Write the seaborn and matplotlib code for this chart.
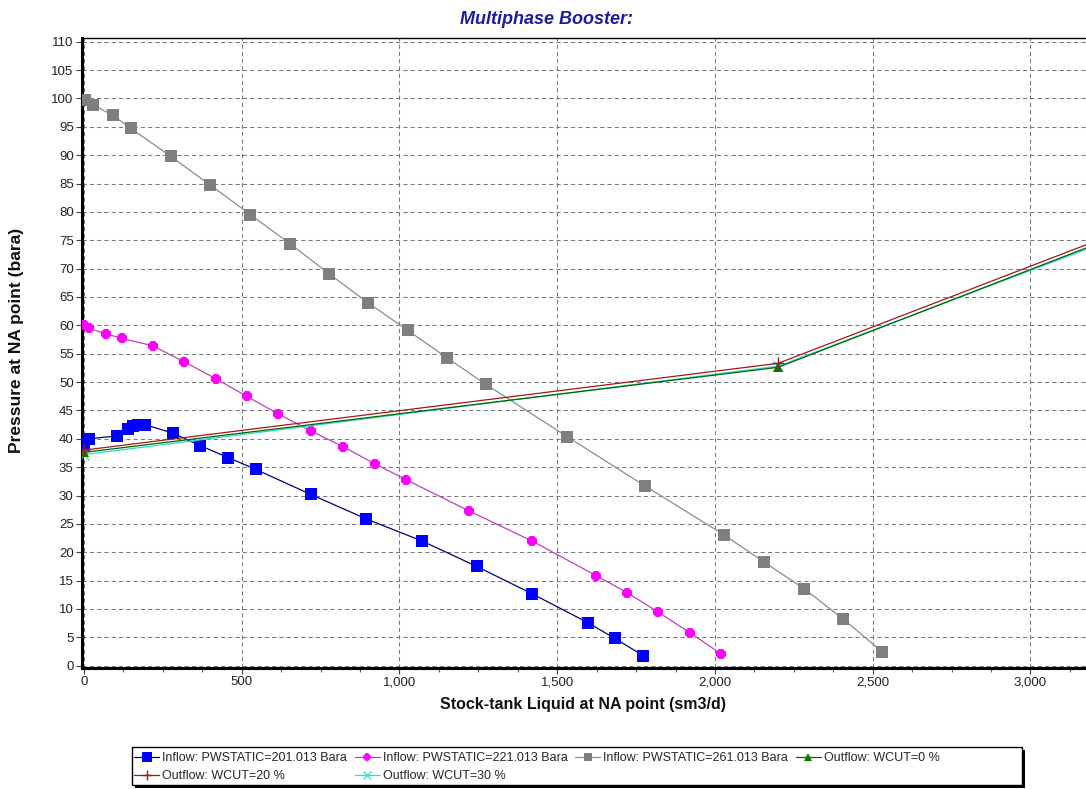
import matplotlib
matplotlib.use("Agg")
import matplotlib.pyplot as plt
import matplotlib.ticker as mticker
from matplotlib.patches import Rectangle
import seaborn as sns
import pandas as pd

# ---------------- data ----------------
in201_x = [0, 15, 104, 140, 157, 171, 193, 282, 368, 457, 545, 719, 894, 1071, 1245, 1420, 1597, 1683, 1772]
in201_y = [39.3, 40.0, 40.5, 41.8, 42.3, 42.5, 42.5, 41.0, 38.8, 36.7, 34.6, 30.2, 25.9, 22.0, 17.5, 12.7, 7.6, 4.8, 1.8]

in221_x = [0, 16, 70, 120, 218, 317, 418, 516, 615, 719, 822, 922, 1021, 1220, 1420, 1623, 1721, 1819, 1921, 2019]
in221_y = [60.0, 59.5, 58.5, 57.7, 56.4, 53.6, 50.6, 47.5, 44.4, 41.4, 38.6, 35.6, 32.8, 27.3, 22.0, 15.9, 12.9, 9.5, 5.8, 2.1]

in261_x = [3, 28, 92, 149, 275, 401, 528, 653, 777, 900, 1027, 1150, 1274, 1531, 1778, 2028, 2155, 2282, 2405, 2529]
in261_y = [99.8, 98.9, 97.0, 94.7, 89.8, 84.7, 79.5, 74.4, 69.1, 64.0, 59.1, 54.3, 49.6, 40.4, 31.7, 23.1, 18.3, 13.6, 8.3, 2.5]

out_x = [0, 2200, 4400]
out0_y = [37.6, 52.6, 100.0]
out20_y = [38.0, 53.3, 100.4]
out30_y = [37.2, 52.8, 99.2]

labels = {
    "in201": "Inflow: PWSTATIC=201.013 Bara",
    "in221": "Inflow: PWSTATIC=221.013 Bara",
    "in261": "Inflow: PWSTATIC=261.013 Bara",
    "out0": "Outflow: WCUT=0 %",
    "out20": "Outflow: WCUT=20 %",
    "out30": "Outflow: WCUT=30 %",
}

x_ticks = [0, 500, 1000, 1500, 2000, 2500, 3000]
y_ticks = list(range(0, 111, 5))

# ---------------- style ----------------
sns.set_theme(style="white")
plt.rcParams["font.family"] = ["Liberation Sans", "DejaVu Sans"]

W, H = 1086, 789
fig = plt.figure(figsize=(W / 100, H / 100), dpi=100)
ax = fig.add_axes([82 / W, 1 - 668 / H, (W - 82) / W, (668 - 37.7) / H])

lw = 0.9
handles = {}

def draw(key, xs, ys, line_color, marker, mfc, ms, mec=None, mew=0.0, z=3):
    df = pd.DataFrame({"x": xs, "y": ys})
    sns.lineplot(data=df, x="x", y="y", ax=ax, sort=False, estimator=None,
                 color=line_color, linewidth=lw, marker=marker, markersize=ms,
                 markerfacecolor=mfc, markeredgecolor=mec if mec else mfc,
                 markeredgewidth=mew, label=labels[key], zorder=z, legend=False)
    handles[key] = ax.lines[-1]

draw("in261", in261_x, in261_y, "#8c8c8c", "s", "#7f7f7f", 8.5)
draw("in221", in221_x, in221_y, "#c040c0", "8", "#ff00ff", 7.5)
draw("in201", in201_x, in201_y, "#00007a", "s", "#0000ff", 9)
draw("out30", out_x, out30_y, "#30d8d0", "x", "#40e0d0", 7, mec="#40e0d0", mew=1.0)
draw("out0", out_x, out0_y, "#006400", "^", "#008000", 7)
draw("out20", out_x, out20_y, "#a01818", "+", "#a01818", 9, mec="#a01818", mew=1.0)

ax.set_xlim(-6, 3176)
ax.set_ylim(-0.4, 110.7)
ax.xaxis.set_major_locator(mticker.FixedLocator(x_ticks))
ax.xaxis.set_minor_locator(mticker.MultipleLocator(125))
ax.yaxis.set_major_locator(mticker.FixedLocator(y_ticks))
ax.xaxis.set_major_formatter(mticker.FuncFormatter(lambda v, p: f"{int(v):,}"))

ax.grid(True, which="major", color="#7a7a7a", linestyle=(0, (4, 3)), linewidth=0.75)
ax.set_axisbelow(True)

ax.spines["right"].set_visible(False)
ax.spines["top"].set_color("black")
ax.spines["top"].set_linewidth(1.0)
ax.spines["left"].set_color("black")
ax.spines["left"].set_linewidth(2.2)
ax.spines["bottom"].set_color("black")
ax.spines["bottom"].set_linewidth(2.2)

ax.tick_params(axis="both", which="major", direction="out", length=4, width=0.8,
               color="#404040", labelsize=9.5, labelcolor="#222222", pad=2,
               bottom=True, left=True)
ax.tick_params(axis="x", which="minor", direction="out", length=3, width=0.8,
               color="#606060", bottom=True)

ax.set_xlabel("Stock-tank Liquid at NA point (sm3/d)", fontsize=11.5, fontweight="bold",
              color="#111111")
ax.set_ylabel("Pressure at NA point (bara)", fontsize=12.5, fontweight="bold",
              color="#111111")
# label centres in figure pixels
ax_w, ax_h = W - 82, 668 - 37.7
ax.xaxis.set_label_coords((583 - 82) / ax_w, -(705 - 668) / ax_h)
ax.yaxis.set_label_coords((17 - 82) / ax_w, (668 - 340) / ax_h)
ax.xaxis.label.set_va("center")
ax.yaxis.label.set_va("center")

fig.text(547 / W, 1 - 20 / H, "Multiphase Booster:", ha="center", va="center",
         fontsize=13, fontweight="bold", fontstyle="italic", color="#1c1ca0")

# legend frame with solid shadow (drawn in figure pixel coords)
lx0, ly0, lx1, ly1 = 132, 747, 1022, 785
fig.patches.append(Rectangle((((lx0 + 3) / W), 1 - (ly1 + 3) / H), (lx1 - lx0) / W, (ly1 - ly0) / H,
                             transform=fig.transFigure, facecolor="black", edgecolor="black",
                             linewidth=0, zorder=1))
fig.patches.append(Rectangle((lx0 / W, 1 - ly1 / H), (lx1 - lx0) / W, (ly1 - ly0) / H,
                             transform=fig.transFigure, facecolor="white", edgecolor="black",
                             linewidth=1.0, zorder=2))

order = ["in201", "out20", "in221", "out30", "in261", "out0"]
leg = fig.legend([handles[k] for k in order], [labels[k] for k in order],
                 loc="upper left", bbox_to_anchor=(134 / W, 1 - 752 / H),
                 ncol=4, fontsize=9, frameon=False,
                 borderpad=0.0, labelspacing=0.5, handlelength=2.0, handletextpad=0.25,
                 columnspacing=0.6, borderaxespad=0.0, markerscale=0.75)
leg.set_zorder(5)

fig.savefig("out.png", dpi=100)
